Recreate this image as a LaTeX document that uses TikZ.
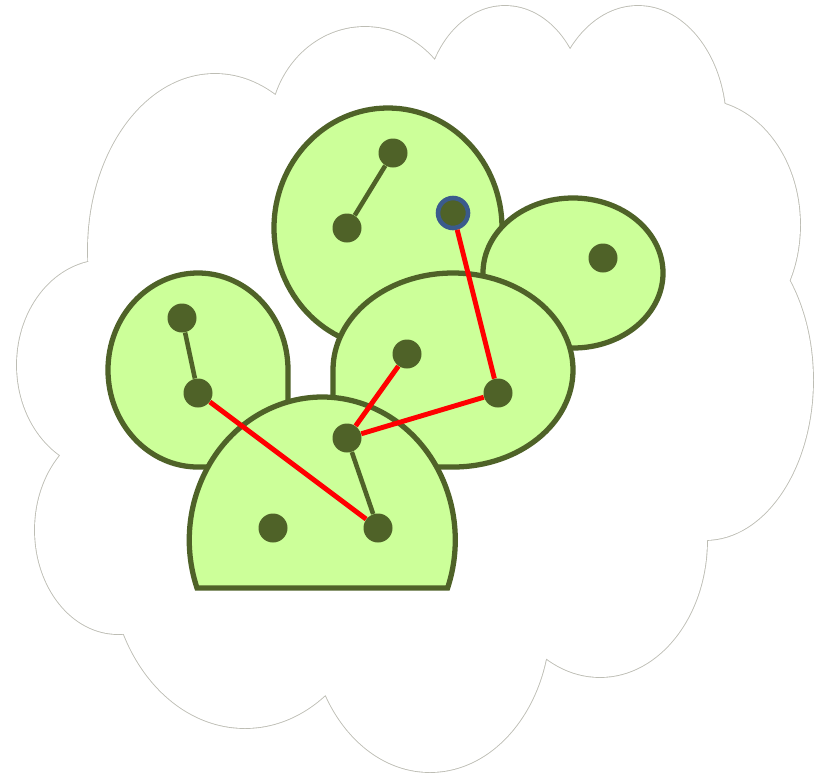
\documentclass[tikz,border=0pt]{standalone}
\usepackage{xcolor}
\definecolor{cloudline}{HTML}{BDBDB4}
\definecolor{blobfill}{HTML}{CCFF99}
\definecolor{blobedge}{HTML}{4F6228}
\definecolor{seedring}{HTML}{3B5B8C}
\usepackage{tikz}
\usetikzlibrary{positioning}

% bumps of the cloud, in pixel units
\newcommand\cloudbumps{%
  (215,250) ellipse [x radius=127, y radius=176]
  (365,130) ellipse [x radius=95, y radius=103]
  (505,110) ellipse [x radius=80, y radius=104]
  (638,125) ellipse [x radius=88, y radius=119]
  (700,225) ellipse [x radius=100, y radius=125]
  (705,380) ellipse [x radius=108, y radius=160]
  (600,540) ellipse [x radius=107, y radius=137]
  (430,620) ellipse [x radius=120, y radius=152]
  (245,560) ellipse [x radius=135, y radius=168]
  (118,530) ellipse [x radius=83, y radius=104]
  (105,365) ellipse [x radius=88, y radius=105]}

\begin{document}
\begin{tikzpicture}[x=0.2mm,y=-0.2mm,
  blob/.style={draw=blobedge,fill=blobfill,line width=3pt},
  dot/.style={circle,fill=blobedge,minimum size=5.8mm,inner sep=0pt},
  seed/.style={dot,draw=seedring,line width=2.6pt,minimum size=6mm},
  tie/.style={draw=blobedge,line width=2.6pt},
  cutlink/.style={draw=red,line width=2.8pt}]
\useasboundingbox (0,0) rectangle (825,774);

% cloud: outline of the union of the bumps
\draw[cloudline,line width=1pt] \cloudbumps;
\fill[white] \cloudbumps (420,390) ellipse [x radius=280, y radius=250];

% clusters
\draw[blob] (388,228) ellipse [x radius=114, y radius=120];
\draw[blob] (573,273) ellipse [x radius=90, y radius=75];
\draw[blob] (288,468) -- (288,370)
  arc[start angle=0, end angle=-180, x radius=90, y radius=97]
  arc[start angle=180, end angle=90, x radius=90, y radius=97] -- cycle;
\draw[blob] (333,468) -- (333,370)
  arc[start angle=180, end angle=360, x radius=120, y radius=97]
  arc[start angle=0, end angle=90, x radius=120, y radius=97] -- cycle;
\draw[blob] (197,588)
  arc[start angle=160.4, end angle=379.6, x radius=133, y radius=143] -- cycle;

% points
\node[dot] (t1) at (393,153) {};
\node[dot] (t2) at (347,228) {};
\node[seed] (t3) at (453,213) {};
\node[dot] (r1) at (603,258) {};
\node[dot] (l1) at (182,318) {};
\node[dot] (l2) at (198,393) {};
\node[dot] (m1) at (407,354) {};
\node[dot] (m2) at (498,393) {};
\node[dot] (b1) at (347,438) {};
\node[dot] (b2) at (273,528) {};
\node[dot] (b3) at (378,528) {};

% links
\draw[tie] (t1) -- (t2);
\draw[tie] (l1) -- (l2);
\draw[tie] (b1) -- (b3);
\draw[cutlink] (t3) -- (m2);
\draw[cutlink] (m1) -- (b1);
\draw[cutlink] (b1) -- (m2);
\draw[cutlink] (l2) -- (b3);
\end{tikzpicture}
\end{document}
